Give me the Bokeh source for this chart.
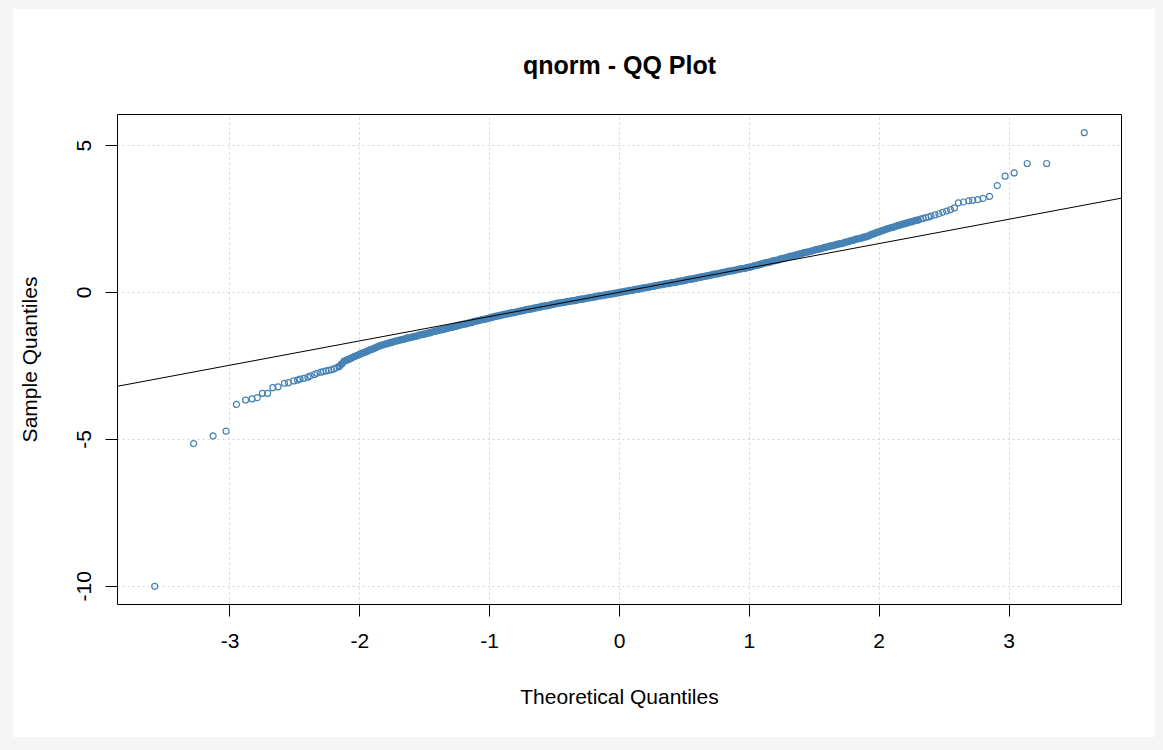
from bokeh.plotting import figure
from bokeh.models import Range1d, Slope, FixedTicker, ColumnDataSource
from bokeh.layouts import column
from bokeh.embed import file_html
from bokeh.resources import INLINE

# Normal QQ plot: theoretical quantiles (x) against sorted sample quantiles (y)

# lower tail
low_x = [-3.58, -3.28, -3.13, -3.03, -2.95, -2.88, -2.83, -2.79, -2.75, -2.71,
         -2.67, -2.63, -2.58, -2.55, -2.51, -2.48, -2.46, -2.43, -2.40, -2.38,
         -2.35, -2.33, -2.30, -2.28, -2.26, -2.24, -2.22, -2.20, -2.18]
low_y = [-10.00, -5.14, -4.88, -4.72, -3.81, -3.66, -3.62, -3.58, -3.43, -3.43,
         -3.24, -3.21, -3.09, -3.07, -3.01, -2.98, -2.95, -2.92, -2.88, -2.84,
         -2.79, -2.75, -2.71, -2.69, -2.67, -2.65, -2.63, -2.60, -2.56]

# dense body of the sample
body_x = [-2.16, -2.14, -2.12, -2.10, -2.08, -2.06, -2.04, -2.02, -2.00, -1.98,
          -1.96, -1.94, -1.92, -1.90, -1.88, -1.86, -1.84, -1.82, -1.80, -1.78,
          -1.76, -1.74, -1.72, -1.70, -1.68, -1.66, -1.64, -1.62, -1.60, -1.58,
          -1.56, -1.54, -1.52, -1.50, -1.48, -1.46, -1.44, -1.42, -1.40, -1.38,
          -1.36, -1.34, -1.32, -1.30, -1.28, -1.26, -1.24, -1.22, -1.20, -1.18,
          -1.16, -1.14, -1.12, -1.10, -1.08, -1.06, -1.04, -1.02, -1.00, -0.98,
          -0.96, -0.94, -0.92, -0.90, -0.88, -0.86, -0.84, -0.82, -0.80, -0.78,
          -0.76, -0.74, -0.72, -0.70, -0.68, -0.66, -0.64, -0.62, -0.60, -0.58,
          -0.56, -0.54, -0.52, -0.50, -0.48, -0.46, -0.44, -0.42, -0.40, -0.38,
          -0.36, -0.34, -0.32, -0.30, -0.28, -0.26, -0.24, -0.22, -0.20, -0.18,
          -0.16, -0.14, -0.12, -0.10, -0.08, -0.06, -0.04, -0.02, 0.00, 0.02,
          0.04, 0.06, 0.08, 0.10, 0.12, 0.14, 0.16, 0.18, 0.20, 0.22,
          0.24, 0.26, 0.28, 0.30, 0.32, 0.34, 0.36, 0.38, 0.40, 0.42,
          0.44, 0.46, 0.48, 0.50, 0.52, 0.54, 0.56, 0.58, 0.60, 0.62,
          0.64, 0.66, 0.68, 0.70, 0.72, 0.74, 0.76, 0.78, 0.80, 0.82,
          0.84, 0.86, 0.88, 0.90, 0.92, 0.94, 0.96, 0.98, 1.00, 1.02,
          1.04, 1.06, 1.08, 1.10, 1.12, 1.14, 1.16, 1.18, 1.20, 1.22,
          1.24, 1.26, 1.28, 1.30, 1.32, 1.34, 1.36, 1.38, 1.40, 1.42,
          1.44, 1.46, 1.48, 1.50, 1.52, 1.54, 1.56, 1.58, 1.60, 1.62,
          1.64, 1.66, 1.68, 1.70, 1.72, 1.74, 1.76, 1.78, 1.80, 1.82,
          1.84, 1.86, 1.88, 1.90, 1.92, 1.94, 1.96, 1.98, 2.00, 2.02,
          2.04, 2.06, 2.08, 2.10, 2.12, 2.14, 2.16, 2.18, 2.20, 2.22,
          2.24, 2.26, 2.28, 2.30]
body_y = [-2.52, -2.43, -2.34, -2.30, -2.26, -2.22, -2.18, -2.14, -2.10, -2.06,
          -2.03, -1.99, -1.95, -1.92, -1.88, -1.84, -1.80, -1.78, -1.75, -1.73,
          -1.70, -1.68, -1.65, -1.63, -1.61, -1.59, -1.56, -1.54, -1.52, -1.50,
          -1.48, -1.45, -1.43, -1.41, -1.39, -1.37, -1.34, -1.32, -1.30, -1.28,
          -1.26, -1.23, -1.21, -1.19, -1.17, -1.15, -1.12, -1.10, -1.08, -1.06,
          -1.04, -1.02, -0.99, -0.97, -0.95, -0.93, -0.91, -0.89, -0.87, -0.84,
          -0.82, -0.80, -0.78, -0.76, -0.74, -0.72, -0.70, -0.69, -0.67, -0.65,
          -0.63, -0.61, -0.59, -0.57, -0.56, -0.54, -0.52, -0.50, -0.48, -0.46,
          -0.45, -0.43, -0.41, -0.39, -0.37, -0.36, -0.34, -0.33, -0.31, -0.30,
          -0.28, -0.27, -0.25, -0.23, -0.22, -0.20, -0.19, -0.17, -0.16, -0.14,
          -0.12, -0.11, -0.09, -0.08, -0.06, -0.05, -0.03, -0.02, 0.00, 0.02,
          0.03, 0.05, 0.07, 0.08, 0.10, 0.11, 0.13, 0.15, 0.16, 0.18,
          0.20, 0.21, 0.23, 0.25, 0.26, 0.28, 0.30, 0.31, 0.33, 0.34,
          0.36, 0.38, 0.39, 0.41, 0.43, 0.45, 0.46, 0.48, 0.50, 0.52,
          0.54, 0.55, 0.57, 0.59, 0.61, 0.63, 0.64, 0.66, 0.68, 0.70,
          0.72, 0.73, 0.75, 0.77, 0.79, 0.81, 0.82, 0.84, 0.86, 0.88,
          0.91, 0.93, 0.95, 0.98, 1.00, 1.02, 1.04, 1.07, 1.09, 1.11,
          1.14, 1.16, 1.18, 1.21, 1.23, 1.25, 1.28, 1.30, 1.32, 1.35,
          1.37, 1.39, 1.41, 1.44, 1.46, 1.48, 1.50, 1.53, 1.55, 1.57,
          1.59, 1.62, 1.64, 1.66, 1.68, 1.71, 1.73, 1.76, 1.78, 1.81,
          1.83, 1.85, 1.88, 1.90, 1.93, 1.97, 2.00, 2.04, 2.07, 2.10,
          2.13, 2.16, 2.19, 2.21, 2.24, 2.27, 2.30, 2.32, 2.35, 2.37,
          2.40, 2.42, 2.45, 2.47]

# upper tail
high_x = [2.32, 2.34, 2.36, 2.38, 2.40, 2.43, 2.46, 2.49, 2.52, 2.55,
          2.58, 2.61, 2.65, 2.69, 2.72, 2.76, 2.80, 2.85, 2.91, 2.97,
          3.04, 3.14, 3.29, 3.58]
high_y = [2.50, 2.52, 2.55, 2.57, 2.60, 2.64, 2.68, 2.73, 2.77, 2.82,
          2.88, 3.05, 3.08, 3.12, 3.14, 3.16, 3.20, 3.27, 3.64, 3.96,
          4.07, 4.39, 4.39, 5.44]

# reference line through the quartiles
qq_intercept = 0.01
qq_slope = 0.828

x_ticks = [-3, -2, -1, 0, 1, 2, 3]
y_ticks = [-10, -5, 0, 5]

theoretical = low_x + body_x + high_x
sample = low_y + body_y + high_y


def padded(lo, hi, frac=0.04):
    span = hi - lo
    return Range1d(lo - frac * span, hi + frac * span)


FONT = "Liberation Sans"
POINT = "#4682b4"

p = figure(
    width=1143, height=729,
    x_range=padded(min(theoretical), max(theoretical)),
    y_range=padded(min(sample), max(sample)),
    output_backend="svg", toolbar_location=None,
    min_border_left=105, min_border_right=34,
    min_border_top=106, min_border_bottom=133,
    title="qnorm - QQ Plot",
    x_axis_label="Theoretical Quantiles",
    y_axis_label="Sample Quantiles",
)
p.margin = (8, 8, 13, 12)
p.background_fill_color = "white"
p.border_fill_color = "white"
p.outline_line_color = "black"
p.outline_line_width = 1

p.title.align = "center"
p.title.text_font = FONT
p.title.text_font_size = "25px"
p.title.text_font_style = "bold"
p.title.text_color = "black"
p.title.standoff = 71

for ax in (p.xaxis[0], p.yaxis[0]):
    ax.axis_line_color = None
    ax.major_tick_out = 12
    ax.major_tick_in = 0
    ax.minor_tick_out = 0
    ax.minor_tick_in = 0
    ax.major_tick_line_color = "black"
    ax.major_label_text_font = FONT
    ax.major_label_text_font_size = "21px"
    ax.major_label_text_color = "black"
    ax.axis_label_text_font = FONT
    ax.axis_label_text_font_size = "21px"
    ax.axis_label_text_font_style = "normal"
    ax.axis_label_text_color = "black"

p.xaxis.ticker = FixedTicker(ticks=x_ticks)
p.yaxis.ticker = FixedTicker(ticks=y_ticks)
p.xaxis.major_label_overrides = {t: str(t) for t in x_ticks}
p.yaxis.major_label_overrides = {t: str(t) for t in y_ticks}
p.xaxis.major_label_standoff = 17
p.xaxis.axis_label_standoff = 34
p.yaxis.major_label_orientation = "vertical"
p.yaxis.major_label_standoff = 14
p.yaxis.axis_label_standoff = 34

p.grid.grid_line_color = "#d3d3d3"
p.grid.grid_line_dash = "2 3"
p.grid.grid_line_width = 1

# the closely packed body reads as one solid band of overlapping rings
body_src = ColumnDataSource(dict(x=body_x, y=body_y))
p.scatter("x", "y", source=body_src, marker="circle", size=5,
          fill_color=None, line_color=POINT, line_width=2.5)

tail_src = ColumnDataSource(dict(x=low_x + high_x, y=low_y + high_y))
p.scatter("x", "y", source=tail_src, marker="circle", size=6,
          fill_color=None, line_color=POINT, line_width=1.2)

p.add_layout(Slope(gradient=qq_slope, y_intercept=qq_intercept,
                   line_color="black", line_width=1))

page = column(p, styles={"background-color": "#f5f5f5"})

open("out.html", "w").write(file_html(page, INLINE))
